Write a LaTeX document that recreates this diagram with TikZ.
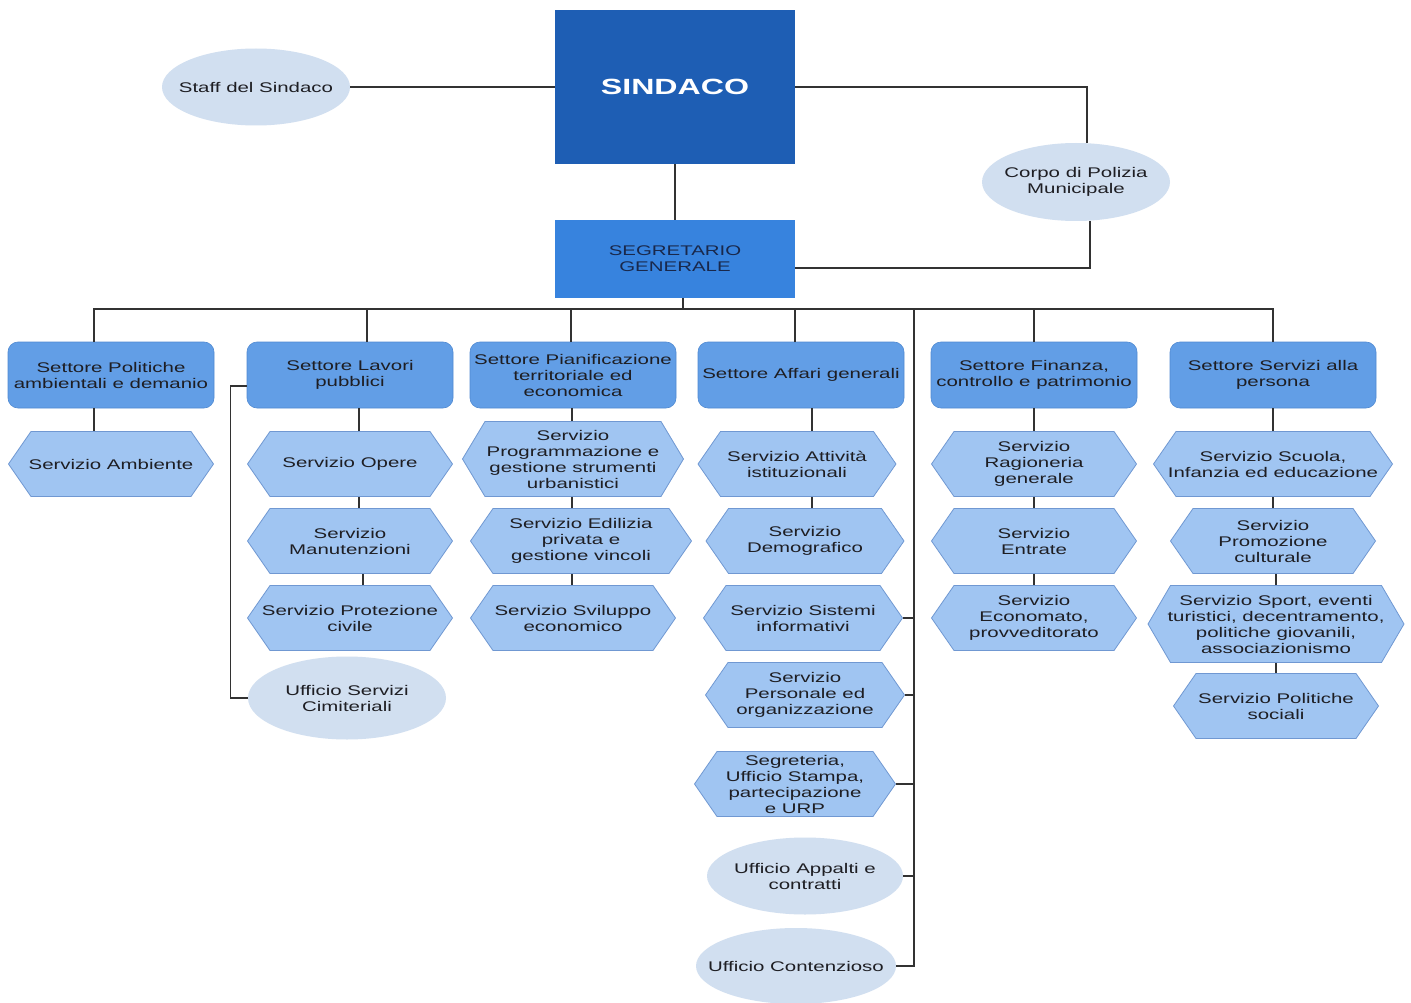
\documentclass[tikz,border=0pt]{standalone}
\usepackage{fontspec}
\setmainfont{Liberation Sans}[FakeStretch=1.46]
\usetikzlibrary{shapes.geometric}
\definecolor{sindc}{RGB}{30,94,180}
\definecolor{segc}{RGB}{55,131,222}
\definecolor{setc}{RGB}{98,158,230}
\definecolor{setline}{RGB}{80,138,210}
\definecolor{hexc}{RGB}{160,197,242}
\definecolor{hexline}{RGB}{112,152,210}
\definecolor{ellc}{RGB}{209,223,240}
\definecolor{linec}{RGB}{50,50,50}
\definecolor{txtc}{RGB}{30,30,35}
\definecolor{segtxt}{RGB}{25,40,75}
\begin{document}
\begin{tikzpicture}[x=1pt,y=-1pt,
  conn/.style={draw=linec, line width=1.4pt},
  txt/.style={text=txtc, font=\fontsize{14}{16}\selectfont, align=center, inner sep=0pt},
  sindbox/.style={rectangle, fill=sindc, text=white, font=\fontsize{22}{24}\selectfont\bfseries, minimum width=240pt, minimum height=154pt, inner sep=0pt},
  segbox/.style={txt, rectangle, fill=segc, text=segtxt, minimum width=240pt, minimum height=78pt},
  settore/.style={txt, rectangle, rounded corners=10pt, fill=setc, draw=setline, line width=0.6pt, minimum width=206pt, minimum height=66pt},
  hexa/.style={txt, rectangle, minimum height=66pt, minimum width=#1,
    path picture={
      \path[fill=hexc, draw=hexline, line width=0.8pt]
        ([xshift=0.5pt]path picture bounding box.west)
        -- ([xshift=23pt,yshift=-0.5pt]path picture bounding box.north west)
        -- ([xshift=-23pt,yshift=-0.5pt]path picture bounding box.north east)
        -- ([xshift=-0.5pt]path picture bounding box.east)
        -- ([xshift=-23pt,yshift=0.5pt]path picture bounding box.south east)
        -- ([xshift=23pt,yshift=0.5pt]path picture bounding box.south west)
        -- cycle;
    }},
  hexa/.default=206pt,
  ell/.style 2 args={txt, rectangle, minimum width=#1, minimum height=#2,
    path picture={
      \fill[ellc] (path picture bounding box.center) ellipse [x radius=#1/2, y radius=#2/2];
    }},
]
\useasboundingbox[fill=white] (0,0) rectangle (1411,1003);

% top level
\node[sindbox] (sind) at (675,87) {SINDACO};
\node[segbox] (seg) at (675,259) {SEGRETARIO\\GENERALE};
\node[ell={188pt}{77pt}] (staff) at (256,87) {Staff del Sindaco};
\node[ell={188pt}{78pt}] (corpo) at (1076,182) {Corpo di Polizia\\Municipale};

% settori
\node[settore] (pol) at (111,375) {Settore Politiche\\ambientali e demanio};
\node[settore] (lav) at (350,375) {Settore Lavori\\pubblici};
\node[settore] (pia) at (573,375) {Settore Pianificazione\\territoriale ed\\economica};
\node[settore] (aff) at (801,375) {Settore Affari generali};
\node[settore] (fin) at (1034,375) {Settore Finanza,\\controllo e patrimonio};
\node[settore] (per) at (1273,375) {Settore Servizi alla\\persona};

% column 1
\node[hexa] (amb) at (111,464) {Servizio Ambiente};
% column 2
\node[hexa] (ope) at (350,464) {Servizio Opere};
\node[hexa] (man) at (350,541) {Servizio\\Manutenzioni};
\node[hexa] (pro) at (350,618) {Servizio Protezione\\civile};
\node[ell={198pt}{83pt}] (cim) at (347,698) {Ufficio Servizi\\Cimiteriali};
% column 3
\node[hexa=222pt, minimum height=76pt] (prg) at (573,459) {Servizio\\Programmazione e\\gestione strumenti\\urbanistici};
\node[hexa=222pt] (edi) at (581,541) {Servizio Edilizia\\privata e\\gestione vincoli};
\node[hexa] (svi) at (573,618) {Servizio Sviluppo\\economico};
% column 4
\node[hexa=199pt] (att) at (797,464) {Servizio Attività\\istituzionali};
\node[hexa=199pt] (dem) at (805,541) {Servizio\\Demografico};
\node[hexa=200pt] (sis) at (803,618) {Servizio Sistemi\\informativi};
\node[hexa=200pt] (pers) at (805,695) {Servizio\\Personale ed\\organizzazione};
\node[hexa=202pt] (segr) at (795,784) {Segreteria,\\Ufficio Stampa,\\partecipazione\\e URP};
\node[ell={196pt}{77pt}] (app) at (805,876) {Ufficio Appalti e\\contratti};
\node[ell={200pt}{76pt}] (con) at (796,966) {Ufficio Contenzioso};
% column 5
\node[hexa] (rag) at (1034,464) {Servizio\\Ragioneria\\generale};
\node[hexa] (ent) at (1034,541) {Servizio\\Entrate};
\node[hexa] (eco) at (1034,618) {Servizio\\Economato,\\provveditorato};
% column 6
\node[hexa=240pt] (scu) at (1273,464) {Servizio Scuola,\\Infanzia ed educazione};
\node[hexa] (prom) at (1273,541) {Servizio\\Promozione\\culturale};
\node[hexa=257pt, minimum height=78pt] (spo) at (1276,624) {Servizio Sport, eventi\\turistici, decentramento,\\politiche giovanili,\\associazionismo};
\node[hexa] (pols) at (1276,706) {Servizio Politiche\\sociali};

% connectors: top
\draw[conn] (staff.east) -- (sind.west);
\draw[conn] (sind.south) -- (seg.north);
\draw[conn] (sind.east) -| ([xshift=11pt]corpo.north);
\draw[conn] ([xshift=14pt]corpo.south) |- ([yshift=-9pt]seg.east);

% bus
\coordinate (bus) at (683,309);
\coordinate (k1) at (94,309);
\coordinate (k2) at (367,309);
\coordinate (k3) at (571,309);
\coordinate (k4) at (795,309);
\coordinate (k45) at (914,309);
\coordinate (k5) at (1034,309);
\coordinate (k6) at (1273,309);
\draw[conn] (seg.south -| bus) -- (bus);
\draw[conn] (k1 |- pol.north) -- (k1) -- (k6) -- (k6 |- per.north);
\draw[conn] (k2) -- (k2 |- lav.north);
\draw[conn] (k3) -- (k3 |- pia.north);
\draw[conn] (k4) -- (k4 |- aff.north);
\draw[conn] (k5) -- (k5 |- fin.north);

% column chains
\draw[conn] (k1 |- pol.south) -- (k1 |- amb.north);
\coordinate (c2) at (359,0);
\draw[conn] (c2 |- lav.south) -- (c2 |- ope.north);
\draw[conn] (c2 |- ope.south) -- (c2 |- man.north);
\coordinate (c2b) at (363,0);
\draw[conn] (c2b |- man.south) -- (c2b |- pro.north);
\draw[conn] ([yshift=-11pt]lav.west) -- ++(-16,0) |- (cim.west);
\coordinate (c3) at (572,0);
\draw[conn] (c3 |- pia.south) -- (c3 |- prg.north);
\draw[conn] (c3 |- prg.south) -- (c3 |- edi.north);
\draw[conn] (c3 |- edi.south) -- (c3 |- svi.north);
\coordinate (c4) at (812,0);
\draw[conn] (c4 |- aff.south) -- (c4 |- att.north);
\draw[conn] (c4 |- att.south) -- (c4 |- dem.north);
\draw[conn] (k45) |- (con.east);
\draw[conn] (sis.east) -- (sis.east -| k45);
\draw[conn] (pers.east) -- (pers.east -| k45);
\draw[conn] (segr.east) -- (segr.east -| k45);
\draw[conn] (app.east) -- (app.east -| k45);
\draw[conn] (k5 |- fin.south) -- (k5 |- rag.north);
\draw[conn] (k5 |- rag.south) -- (k5 |- ent.north);
\draw[conn] (k5 |- ent.south) -- (k5 |- eco.north);
\coordinate (c6) at (1276,0);
\draw[conn] (k6 |- per.south) -- (k6 |- scu.north);
\draw[conn] (k6 |- scu.south) -- (k6 |- prom.north);
\draw[conn] (c6 |- prom.south) -- (c6 |- spo.north);
\draw[conn] (c6 |- spo.south) -- (c6 |- pols.north);
\end{tikzpicture}
\end{document}
